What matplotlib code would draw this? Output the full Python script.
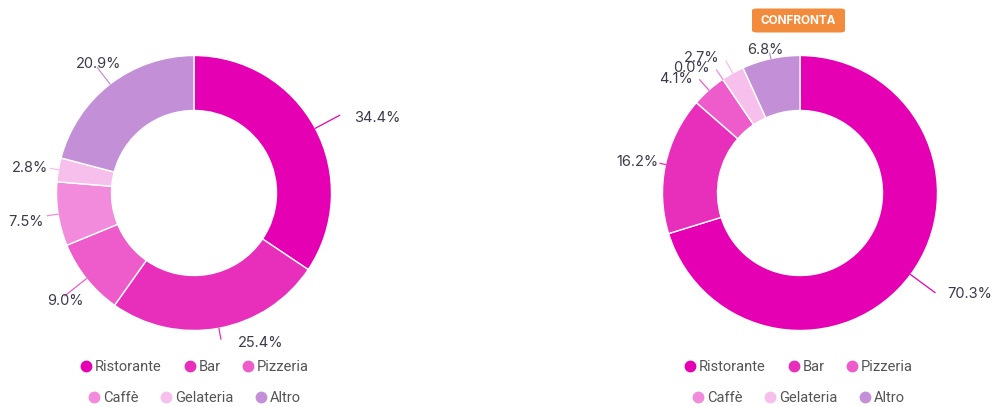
import math

import matplotlib.pyplot as plt
from matplotlib.lines import Line2D
from matplotlib.patches import FancyBboxPatch

categories = ["Ristorante", "Bar", "Pizzeria", "Caffè", "Gelateria", "Altro"]
colors = ["#e600b4", "#e82fbc", "#ee5ccc", "#f28bdb", "#f7bfeb", "#c390d8"]
values_left = [34.4, 25.4, 9.0, 7.5, 2.8, 20.9]
values_right = [70.3, 16.2, 4.1, 0.0, 2.7, 6.8]

# label layout: leader length (x radius), text shift in px (dx, dy), alignment
labels_left = [(1.2, 15, -3, "left"), (1.08, 17, -4, "left"), (1.2, 0, -5, "center"),
               (1.08, -4, -6, "right"), (1.06, -2, 0, "right"), (1.15, 1, 4, "center")]
labels_right = [(1.22, 12, -1.5, "left"), (1.04, -2, 1.5, "right"), (1.1, -6.5, 1, "right"),
                (1.08, -6.5, 2, "right"), (1.1, -6, 3, "right"), (1.04, -4.5, 3, "center")]

W, H = 992, 407
R_PX = 137.5   # donut radius in pixels
HALF = 190     # half size of each axes box in pixels
LABEL_COLOR = "#3a3a4c"


def donut(fig, cx, cy, values, layout):
    ax = fig.add_axes([(cx - HALF) / W, (H - cy - HALF) / H, 2 * HALF / W, 2 * HALF / H])
    wedges, _ = ax.pie(values, colors=colors, startangle=90, counterclock=False, radius=1,
                       wedgeprops=dict(width=0.4, edgecolor="white", linewidth=1))
    lim = HALF / R_PX
    ax.set_xlim(-lim, lim)
    ax.set_ylim(-lim, lim)
    ax.set_aspect("equal")
    ax.axis("off")

    for w, v, (lead, dx, dy, ha) in zip(wedges, values, layout):
        mid = math.radians((w.theta1 + w.theta2) / 2)
        ex, ey = math.cos(mid), math.sin(mid)
        px, py = lead * ex, lead * ey
        ax.plot([ex, px], [ey, py], color=w.get_facecolor(), lw=0.9, clip_on=False)
        ax.text(px + dx / R_PX, py + dy / R_PX, f"{v:.1f}%", ha=ha, va="center",
                fontsize=10.5, family="Inter", color=LABEL_COLOR, clip_on=False)
    return ax


def legend_rows(fig, cx):
    handles = [Line2D([], [], ls="", marker="o", markersize=7.5, markerfacecolor=c,
                      markeredgecolor=c) for c in colors]
    for row, y in ((0, 367), (1, 398)):
        lg = fig.legend(handles[row * 3:row * 3 + 3], categories[row * 3:row * 3 + 3],
                        loc="center", bbox_to_anchor=(cx / W, 1 - y / H), ncol=3,
                        frameon=False, handletextpad=0.1, columnspacing=1.4,
                        handlelength=1.0, borderpad=0,
                        prop=dict(family="Roboto", size=10.5))
        for t in lg.get_texts():
            t.set_color("#555555")


fig = plt.figure(figsize=(W / 100, H / 100), dpi=100)
fig.patch.set_facecolor("white")

donut(fig, 194, 193, values_left, labels_left)
donut(fig, 800, 193, values_right, labels_right)
legend_rows(fig, 194)
legend_rows(fig, 798)

# "CONFRONTA" button above the right chart
btn = FancyBboxPatch((752 / W, 1 - 32.5 / H), 93 / W, 24 / H,
                     boxstyle="round,pad=0,rounding_size=0.005",
                     transform=fig.transFigure, facecolor="#f28c3c", edgecolor="none")
fig.patches.append(btn)
fig.text(798.5 / W, 1 - 20.5 / H, "CONFRONTA", ha="center", va="center", color="white",
         fontsize=8.5, fontweight="bold", family="Inter")

fig.savefig("out.png", dpi=100, facecolor="white")
